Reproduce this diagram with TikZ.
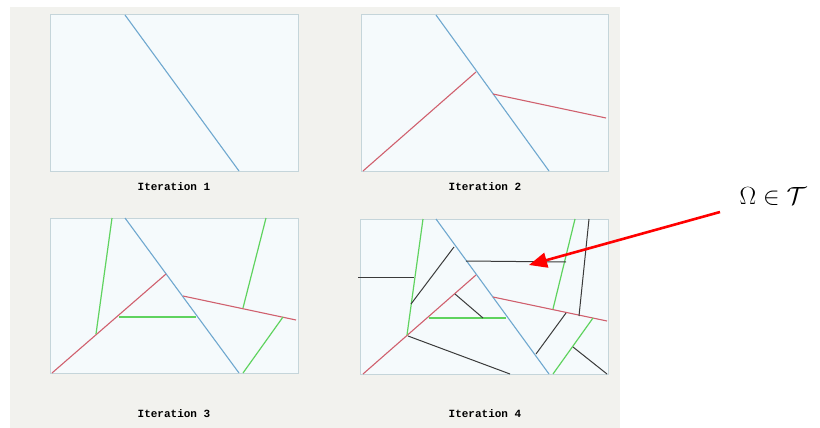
\documentclass[tikz,border=0pt]{standalone}
\usepackage{fontspec}
\newfontfamily\labfont{Liberation Mono}
\usetikzlibrary{arrows.meta}
\definecolor{bggray}{HTML}{F2F2EE}
\definecolor{panelfill}{HTML}{F5FAFC}
\definecolor{panelborder}{HTML}{C5D5DA}
\definecolor{cutblue}{HTML}{6FA8CF}
\definecolor{cutred}{HTML}{D0606E}
\definecolor{cutgreen}{HTML}{5FD35F}
\definecolor{cutblack}{HTML}{3A3A3A}
\tikzset{
  panel/.style={draw=panelborder, fill=panelfill, line width=1pt},
  bcut/.style={draw=cutblue, line width=1.1pt},
  rcut/.style={draw=cutred, line width=1.1pt},
  gcut/.style={draw=cutgreen, line width=1.2pt},
  kcut/.style={draw=cutblack, line width=1pt},
  itlabel/.style={font=\labfont\bfseries\fontsize{11}{13}\selectfont, inner sep=0pt},
  pointer/.style={draw=red, line width=2.6pt, -{Triangle[length=18pt,width=15pt]}}
}
\begin{document}
\begin{tikzpicture}[x=1pt,y=-1pt]
\useasboundingbox (0,0) rectangle (820,428);
\fill[white] (0,0) rectangle (820,428);
\fill[bggray] (10,7) rectangle (620,428);
% Panel 1
\draw[panel] (50,15) rectangle (298,171);
\draw[bcut] (125,15) -- (239,171);
\node[itlabel] (l1) at (174,187) {Iteration 1};
% Panel 2
\draw[panel] (361,15) rectangle (608,171);
\draw[bcut] (436,15) -- (549,171);
\draw[rcut] (363,171) -- (476,72);
\draw[rcut] (493,94) -- (606,118);
\node[itlabel] (l2) at (485,187) {Iteration 2};
% Panel 3
\draw[panel] (50,218) rectangle (298,373);
\draw[bcut] (125,218) -- (239,373);
\draw[rcut] (52,373) -- (166,274);
\draw[rcut] (183,296) -- (296,320);
\draw[gcut] (112,218) -- (96,334);
\draw[gcut] (119,317) -- (196,317);
\draw[gcut] (266,218) -- (243,308);
\draw[gcut] (283,317) -- (243,373);
\node[itlabel] (l3) at (174,414) {Iteration 3};
% Panel 4
\draw[panel] (360,219) rectangle (608,374);
\draw[bcut] (436,219) -- (549,374);
\draw[rcut] (363,374) -- (476,275);
\draw[rcut] (493,297) -- (607,321);
\draw[gcut] (423,219) -- (407,335);
\draw[gcut] (429,318) -- (506,318);
\draw[gcut] (575,219) -- (553,309);
\draw[gcut] (593,318) -- (553,374);
\draw[kcut] (358,277) -- (414,277);
\draw[kcut] (411,304) -- (454,247);
\draw[kcut] (466,261) -- (566,262);
\draw[kcut] (455,294) -- (483,318);
\draw[kcut] (408,336) -- (510,374);
\draw[kcut] (589,219) -- (579,316);
\draw[kcut] (566,313) -- (536,354);
\draw[kcut] (573,347) -- (607,374);
\node[itlabel] (l4) at (485,414) {Iteration 4};
% Annotation
\node[inner sep=0pt, font=\fontsize{30}{34}\selectfont] (omega) at (773,196) {$\Omega\in\mathcal{T}$};
\coordinate (tail) at (720,212);
\coordinate (tip) at (529,265);
\draw[pointer] (tail) -- (tip);
\end{tikzpicture}
\end{document}
